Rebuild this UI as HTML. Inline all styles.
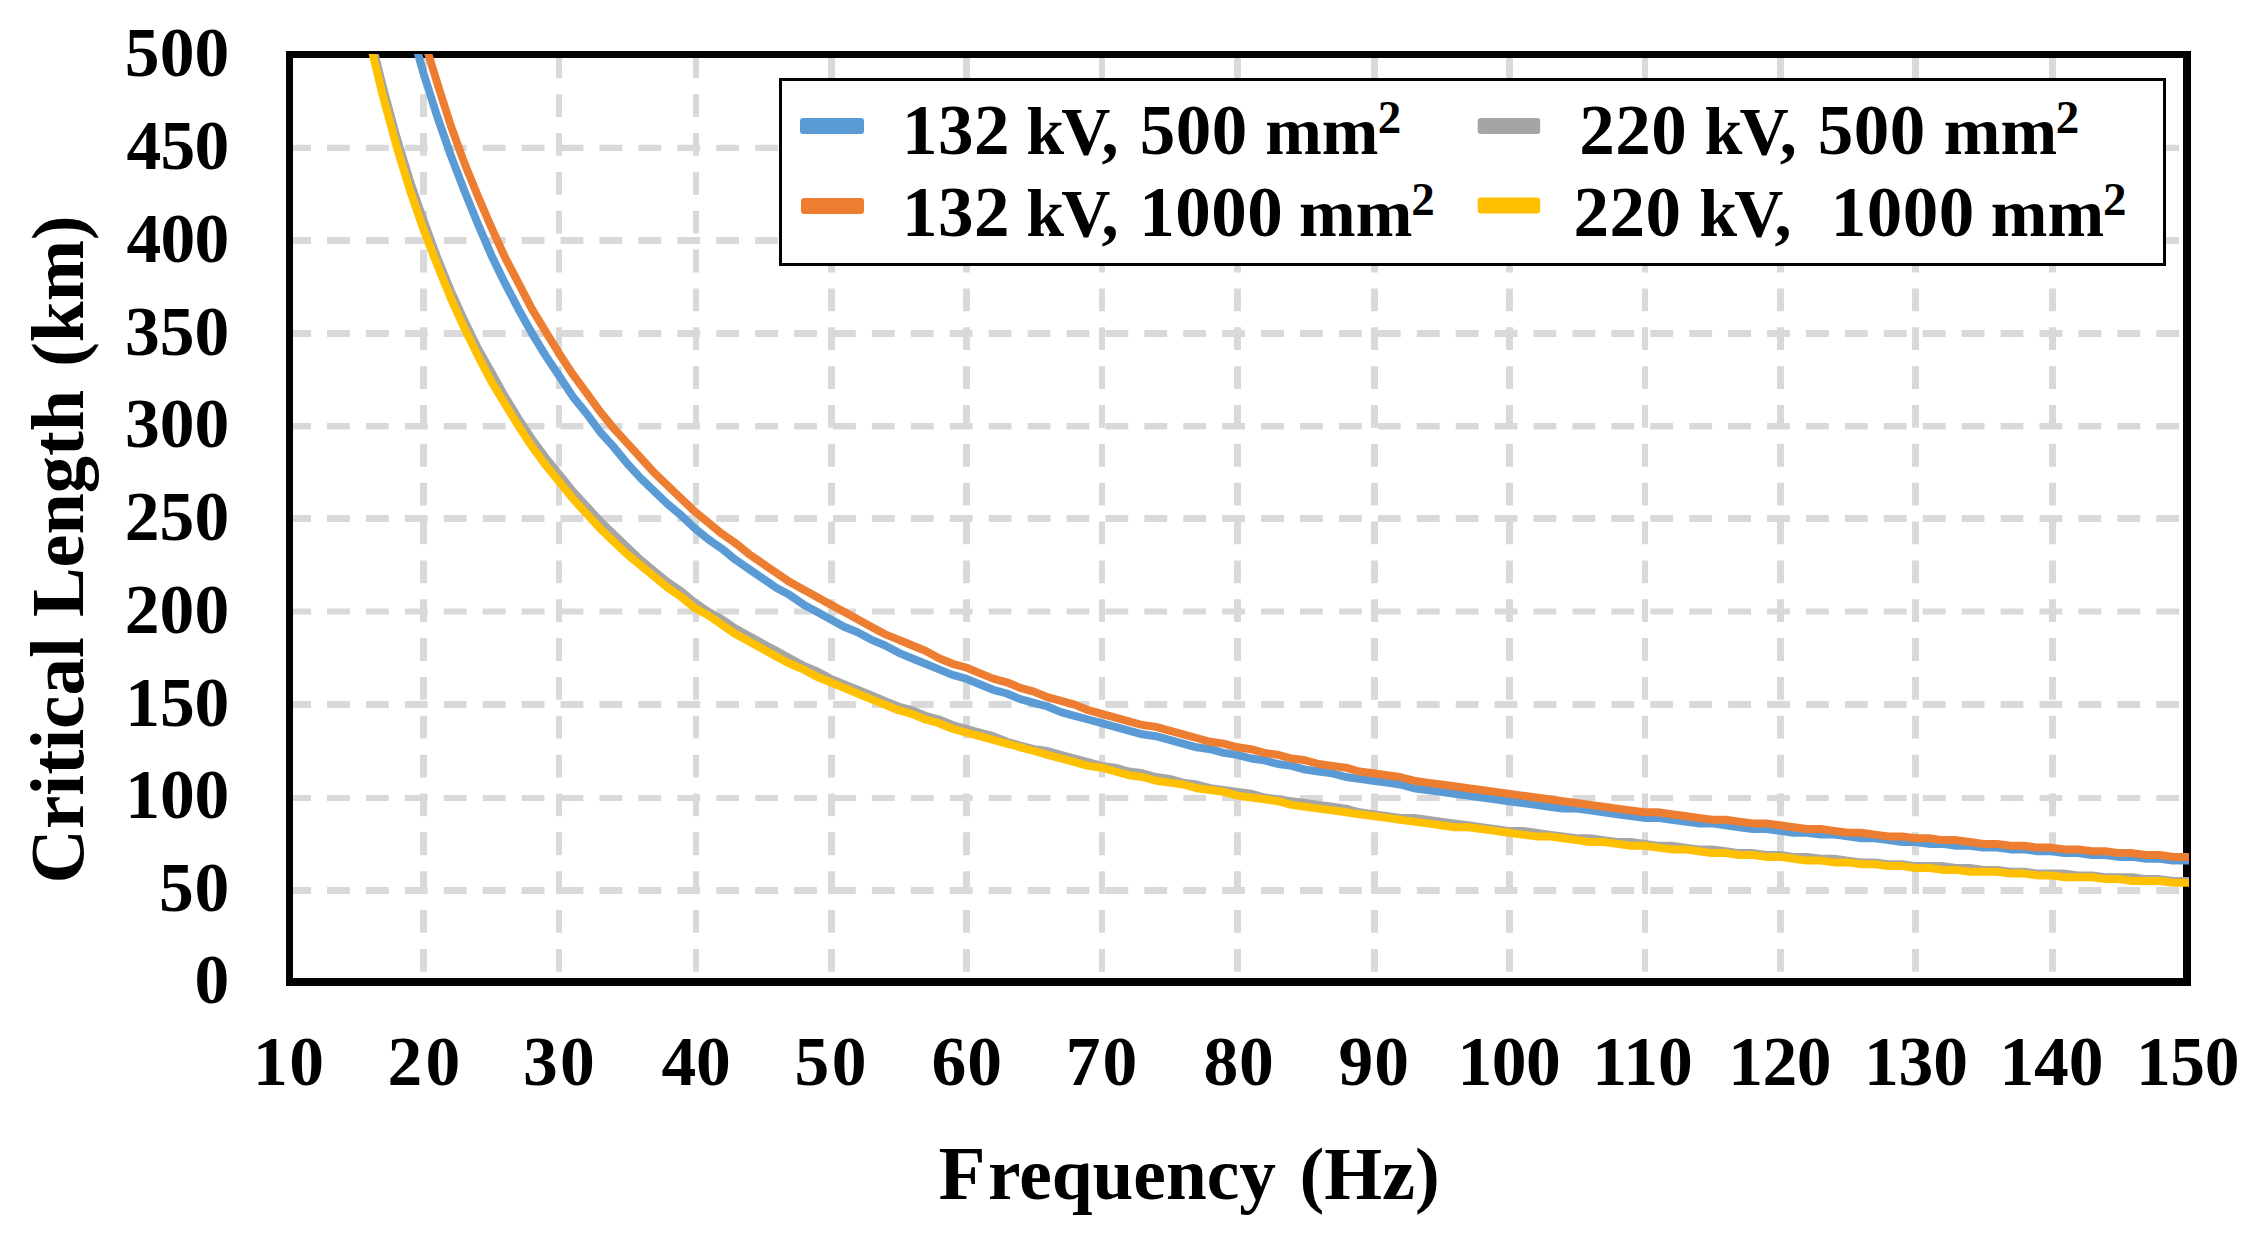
<!DOCTYPE html>
<html lang="en"><head><meta charset="utf-8"><title>Critical Length vs Frequency</title>
<style>html,body{margin:0;padding:0;background:#fff}svg{display:block}text{font-family:'Liberation Serif','Times New Roman',serif;font-weight:bold;fill:#000}.t{font-size:69.5px}.l{font-size:68px}.d{font-size:71px;letter-spacing:.5px}.s{font-size:47px}.a{font-size:75.2px}</style></head><body>
<svg width="2258" height="1254" viewBox="0 0 2258 1254">
<rect width="2258" height="1254" fill="#fff"/>
<g stroke="#D9D9D9" fill="none">
<path d="M288.1 147.82H2190" stroke-width="6.15" stroke-dasharray="22.85 16.07"/>
<path d="M288.1 240.50H2190" stroke-width="7.00" stroke-dasharray="22.85 16.07"/>
<path d="M288.1 333.50H2190" stroke-width="7.00" stroke-dasharray="22.85 16.07"/>
<path d="M288.1 426.30H2190" stroke-width="6.60" stroke-dasharray="22.85 16.07"/>
<path d="M288.1 518.50H2190" stroke-width="7.00" stroke-dasharray="22.85 16.07"/>
<path d="M288.1 611.50H2190" stroke-width="6.00" stroke-dasharray="22.85 16.07"/>
<path d="M288.1 704.50H2190" stroke-width="7.00" stroke-dasharray="22.85 16.07"/>
<path d="M288.1 798.00H2190" stroke-width="6.00" stroke-dasharray="22.85 16.07"/>
<path d="M288.1 890.50H2190" stroke-width="7.00" stroke-dasharray="22.85 16.07"/>
<path d="M423.50 55.35V985" stroke-width="7.00" stroke-dasharray="22.8 16.05"/>
<path d="M559.00 55.35V985" stroke-width="6.00" stroke-dasharray="22.8 16.05"/>
<path d="M696.00 55.35V985" stroke-width="6.00" stroke-dasharray="22.8 16.05"/>
<path d="M831.50 55.35V985" stroke-width="7.00" stroke-dasharray="22.8 16.05"/>
<path d="M966.50 55.35V985" stroke-width="7.00" stroke-dasharray="22.8 16.05"/>
<path d="M1102.00 55.35V985" stroke-width="6.00" stroke-dasharray="22.8 16.05"/>
<path d="M1237.50 55.35V985" stroke-width="7.00" stroke-dasharray="22.8 16.05"/>
<path d="M1374.50 55.35V985" stroke-width="7.00" stroke-dasharray="22.8 16.05"/>
<path d="M1509.50 55.35V985" stroke-width="7.00" stroke-dasharray="22.8 16.05"/>
<path d="M1645.00 55.35V985" stroke-width="6.00" stroke-dasharray="22.8 16.05"/>
<path d="M1780.50 55.35V985" stroke-width="7.00" stroke-dasharray="22.8 16.05"/>
<path d="M1915.50 55.35V985" stroke-width="7.00" stroke-dasharray="22.8 16.05"/>
<path d="M2052.50 55.35V985" stroke-width="7.00" stroke-dasharray="22.8 16.05"/>
</g>
<path fill="#000" fill-rule="evenodd" d="M286 51H2191V986H286ZM293 58V978H2183V58Z"/>
<clipPath id="c"><rect x="286" y="54" width="1903" height="935"/></clipPath>
<g clip-path="url(#c)" fill="none" stroke-width="8" stroke-linejoin="round">
<polyline stroke="#5B9BD5" points="342.2 -318.3 355.7 -231.1 369.3 -154.9 382.8 -88.1 396.4 -28.7 410.0 25.1 423.5 73.4 437.1 116.1 450.7 155.1 464.2 190.4 477.8 223.8 491.4 255.4 504.9 283.2 518.5 309.2 532.0 333.3 545.6 355.6 559.2 376.0 572.7 396.4 586.3 413.2 599.9 431.7 613.4 446.6 627.0 463.3 640.6 478.1 654.1 491.1 667.7 504.1 681.2 515.3 694.8 528.3 708.4 539.4 721.9 548.7 735.5 559.8 749.1 569.1 762.6 578.4 776.2 587.7 789.8 595.1 803.3 604.4 816.9 611.8 830.4 619.2 844.0 626.7 857.6 632.2 871.1 639.6 884.7 645.2 898.3 652.6 911.8 658.2 925.4 663.8 939.0 669.4 952.5 674.9 966.1 678.6 979.6 684.2 993.2 689.8 1006.8 693.5 1020.3 699.1 1033.9 702.8 1047.5 706.5 1061.0 712.1 1074.6 715.8 1088.2 719.5 1101.7 723.2 1115.3 726.9 1128.8 730.6 1142.4 734.3 1156.0 736.2 1169.5 739.9 1183.1 743.6 1196.7 747.3 1210.2 749.2 1223.8 752.9 1237.4 754.8 1250.9 758.5 1264.5 760.3 1278.0 764.0 1291.6 765.9 1305.2 769.6 1318.7 771.5 1332.3 773.3 1345.9 777.0 1359.4 778.9 1373.0 780.7 1386.6 782.6 1400.1 784.5 1413.7 788.2 1427.2 790.0 1440.8 791.9 1454.4 793.7 1467.9 795.6 1481.5 797.5 1495.1 799.3 1508.6 801.2 1522.2 803.0 1535.8 804.9 1549.3 806.7 1562.9 808.6 1576.4 808.6 1590.0 810.4 1603.6 812.3 1617.1 814.2 1630.7 816.0 1644.3 817.9 1657.8 817.9 1671.4 819.7 1685.0 821.6 1698.5 823.4 1712.1 823.4 1725.6 825.3 1739.2 827.2 1752.8 829.0 1766.3 829.0 1779.9 830.9 1793.5 832.7 1807.0 832.7 1820.6 834.6 1834.2 834.6 1847.7 836.4 1861.3 838.3 1874.8 838.3 1888.4 840.1 1902.0 842.0 1915.5 842.0 1929.1 843.9 1942.7 843.9 1956.2 845.7 1969.8 845.7 1983.3 847.6 1996.9 847.6 2010.5 849.4 2024.0 849.4 2037.6 851.3 2051.2 851.3 2064.7 853.1 2078.3 853.1 2091.9 855.0 2105.4 855.0 2119.0 856.9 2132.5 856.9 2146.1 858.7 2159.7 858.7 2173.2 860.6 2186.8 860.6 2200.4 860.6"/>
<polyline stroke="#ED7D31" points="342.2 -366.6 355.7 -275.6 369.3 -197.6 382.8 -128.9 396.4 -65.8 410.0 -12.0 423.5 38.1 437.1 82.7 450.7 125.4 464.2 162.5 477.8 195.9 491.4 227.5 504.9 257.2 518.5 283.2 532.0 309.2 545.6 331.5 559.2 353.7 572.7 374.2 586.3 392.7 599.9 411.3 613.4 428.0 627.0 442.9 640.6 457.7 654.1 472.6 667.7 485.6 681.2 498.6 694.8 511.5 708.4 522.7 721.9 533.8 735.5 543.1 749.1 554.2 762.6 563.5 776.2 572.8 789.8 582.1 803.3 589.5 816.9 596.9 830.4 604.4 844.0 611.8 857.6 619.2 871.1 626.7 884.7 634.1 898.3 639.6 911.8 645.2 925.4 650.8 939.0 658.2 952.5 663.8 966.1 667.5 979.6 673.1 993.2 678.6 1006.8 682.3 1020.3 687.9 1033.9 691.6 1047.5 697.2 1061.0 700.9 1074.6 704.6 1088.2 710.2 1101.7 713.9 1115.3 717.6 1128.8 721.3 1142.4 725.0 1156.0 726.9 1169.5 730.6 1183.1 734.3 1196.7 738.0 1210.2 741.8 1223.8 743.6 1237.4 747.3 1250.9 749.2 1264.5 752.9 1278.0 754.8 1291.6 758.5 1305.2 760.3 1318.7 764.0 1332.3 765.9 1345.9 767.7 1359.4 771.5 1373.0 773.3 1386.6 775.2 1400.1 777.0 1413.7 780.7 1427.2 782.6 1440.8 784.5 1454.4 786.3 1467.9 788.2 1481.5 790.0 1495.1 791.9 1508.6 793.7 1522.2 795.6 1535.8 797.5 1549.3 799.3 1562.9 801.2 1576.4 803.0 1590.0 804.9 1603.6 806.7 1617.1 808.6 1630.7 810.4 1644.3 812.3 1657.8 812.3 1671.4 814.2 1685.0 816.0 1698.5 817.9 1712.1 819.7 1725.6 819.7 1739.2 821.6 1752.8 823.4 1766.3 823.4 1779.9 825.3 1793.5 827.2 1807.0 829.0 1820.6 829.0 1834.2 830.9 1847.7 832.7 1861.3 832.7 1874.8 834.6 1888.4 836.4 1902.0 836.4 1915.5 838.3 1929.1 838.3 1942.7 840.1 1956.2 840.1 1969.8 842.0 1983.3 843.9 1996.9 843.9 2010.5 845.7 2024.0 845.7 2037.6 847.6 2051.2 847.6 2064.7 849.4 2078.3 849.4 2091.9 851.3 2105.4 851.3 2119.0 853.1 2132.5 853.1 2146.1 855.0 2159.7 855.0 2173.2 856.9 2186.8 856.9 2200.4 858.7"/>
<polyline stroke="#A5A5A5" points="342.2 -99.2 355.7 -28.7 369.3 32.6 382.8 86.4 396.4 136.5 410.0 181.1 423.5 220.1 437.1 257.2 450.7 290.6 464.2 320.3 477.8 348.2 491.4 372.3 504.9 396.4 518.5 418.7 532.0 439.1 545.6 457.7 559.2 474.4 572.7 491.1 586.3 506.0 599.9 520.8 613.4 533.8 627.0 546.8 640.6 559.8 654.1 571.0 667.7 582.1 681.2 591.4 694.8 602.5 708.4 611.8 721.9 619.2 735.5 628.5 749.1 635.9 762.6 643.4 776.2 650.8 789.8 658.2 803.3 665.6 816.9 671.2 830.4 678.6 844.0 684.2 857.6 689.8 871.1 695.3 884.7 700.9 898.3 706.5 911.8 710.2 925.4 715.8 939.0 719.5 952.5 725.0 966.1 728.8 979.6 732.5 993.2 736.2 1006.8 741.8 1020.3 745.5 1033.9 749.2 1047.5 751.0 1061.0 754.8 1074.6 758.5 1088.2 762.2 1101.7 765.9 1115.3 767.7 1128.8 771.5 1142.4 773.3 1156.0 777.0 1169.5 778.9 1183.1 782.6 1196.7 784.5 1210.2 788.2 1223.8 790.0 1237.4 791.9 1250.9 793.7 1264.5 797.5 1278.0 799.3 1291.6 801.2 1305.2 803.0 1318.7 804.9 1332.3 806.7 1345.9 808.6 1359.4 812.3 1373.0 814.2 1386.6 816.0 1400.1 817.9 1413.7 817.9 1427.2 819.7 1440.8 821.6 1454.4 823.4 1467.9 825.3 1481.5 827.2 1495.1 829.0 1508.6 830.9 1522.2 830.9 1535.8 832.7 1549.3 834.6 1562.9 836.4 1576.4 838.3 1590.0 838.3 1603.6 840.1 1617.1 842.0 1630.7 842.0 1644.3 843.9 1657.8 845.7 1671.4 845.7 1685.0 847.6 1698.5 849.4 1712.1 849.4 1725.6 851.3 1739.2 853.1 1752.8 853.1 1766.3 855.0 1779.9 855.0 1793.5 856.9 1807.0 856.9 1820.6 858.7 1834.2 858.7 1847.7 860.6 1861.3 862.4 1874.8 862.4 1888.4 864.3 1902.0 864.3 1915.5 866.1 1929.1 866.1 1942.7 866.1 1956.2 868.0 1969.8 868.0 1983.3 869.9 1996.9 869.9 2010.5 871.7 2024.0 871.7 2037.6 873.6 2051.2 873.6 2064.7 873.6 2078.3 875.4 2091.9 875.4 2105.4 877.3 2119.0 877.3 2132.5 877.3 2146.1 879.1 2159.7 879.1 2173.2 881.0 2186.8 881.0 2200.4 881.0"/>
<polyline stroke="#FFC000" points="342.2 -95.5 355.7 -23.1 369.3 40.0 382.8 95.7 396.4 145.8 410.0 190.4 423.5 229.4 437.1 264.6 450.7 298.1 464.2 327.8 477.8 355.6 491.4 381.6 504.9 403.9 518.5 426.1 532.0 446.6 545.6 465.1 559.2 481.8 572.7 498.6 586.3 513.4 599.9 528.3 613.4 541.3 627.0 554.2 640.6 565.4 654.1 576.5 667.7 587.7 681.2 596.9 694.8 608.1 708.4 615.5 721.9 624.8 735.5 634.1 749.1 641.5 762.6 648.9 776.2 656.4 789.8 663.8 803.3 669.4 816.9 676.8 830.4 682.3 844.0 687.9 857.6 693.5 871.1 699.1 884.7 704.6 898.3 710.2 911.8 713.9 925.4 719.5 939.0 723.2 952.5 728.8 966.1 732.5 979.6 736.2 993.2 739.9 1006.8 743.6 1020.3 747.3 1033.9 751.0 1047.5 754.8 1061.0 758.5 1074.6 762.2 1088.2 765.9 1101.7 767.7 1115.3 771.5 1128.8 775.2 1142.4 777.0 1156.0 780.7 1169.5 782.6 1183.1 784.5 1196.7 788.2 1210.2 790.0 1223.8 791.9 1237.4 795.6 1250.9 797.5 1264.5 799.3 1278.0 801.2 1291.6 804.9 1305.2 806.7 1318.7 808.6 1332.3 810.4 1345.9 812.3 1359.4 814.2 1373.0 816.0 1386.6 817.9 1400.1 819.7 1413.7 821.6 1427.2 823.4 1440.8 825.3 1454.4 827.2 1467.9 827.2 1481.5 829.0 1495.1 830.9 1508.6 832.7 1522.2 834.6 1535.8 836.4 1549.3 836.4 1562.9 838.3 1576.4 840.1 1590.0 842.0 1603.6 842.0 1617.1 843.9 1630.7 845.7 1644.3 845.7 1657.8 847.6 1671.4 849.4 1685.0 849.4 1698.5 851.3 1712.1 853.1 1725.6 853.1 1739.2 855.0 1752.8 855.0 1766.3 856.9 1779.9 856.9 1793.5 858.7 1807.0 860.6 1820.6 860.6 1834.2 862.4 1847.7 862.4 1861.3 864.3 1874.8 864.3 1888.4 866.1 1902.0 866.1 1915.5 868.0 1929.1 868.0 1942.7 869.9 1956.2 869.9 1969.8 871.7 1983.3 871.7 1996.9 871.7 2010.5 873.6 2024.0 873.6 2037.6 875.4 2051.2 875.4 2064.7 877.3 2078.3 877.3 2091.9 877.3 2105.4 879.1 2119.0 879.1 2132.5 881.0 2146.1 881.0 2159.7 881.0 2173.2 882.8 2186.8 882.8 2200.4 882.8"/>
</g>
<rect x="780.5" y="79.5" width="1384" height="185" fill="#fff" stroke="#000" stroke-width="3"/>
<rect x="800" y="118" width="64" height="16" rx="3" fill="#5B9BD5"/>
<rect x="801" y="198" width="63" height="16" rx="3" fill="#ED7D31"/>
<rect x="1477.7" y="118" width="62.5" height="16" rx="3" fill="#A5A5A5"/>
<rect x="1477.7" y="197.5" width="62.5" height="16" rx="3" fill="#FFC000"/>
<text y="154"><tspan class="d" x="902">132</tspan> <tspan class="l" x="1026.2">k</tspan><tspan class="l" x="1061.2">V,</tspan> <tspan class="d" x="1139.7">500</tspan> <tspan class="l" x="1265.2">mm</tspan><tspan class="s" x="1377.8" dy="-21">2</tspan></text>
<text y="235.5"><tspan class="d" x="902">132</tspan> <tspan class="l" x="1026.2">k</tspan><tspan class="l" x="1061.2">V,</tspan> <tspan class="d" x="1139.2">1000</tspan> <tspan class="l" x="1299">mm</tspan><tspan class="s" x="1411.2" dy="-21">2</tspan></text>
<text y="154"><tspan class="d" x="1579.2">220</tspan> <tspan class="l" x="1704.5">k</tspan><tspan class="l" x="1739.5">V,</tspan> <tspan class="d" x="1817.8">500</tspan> <tspan class="l" x="1943.8">mm</tspan><tspan class="s" x="2055.8" dy="-21">2</tspan></text>
<text y="236"><tspan class="d" x="1573.4">220</tspan> <tspan class="l" x="1699.2">k</tspan><tspan class="l" x="1734.2">V,</tspan>  <tspan class="d" x="1830.8">1000</tspan> <tspan class="l" x="1990.8">mm</tspan><tspan class="s" x="2103" dy="-21">2</tspan></text>
<text class="t" x="194.5" y="1003.1" letter-spacing="0.00">0</text>
<text class="t" x="159.0" y="910.9" letter-spacing="0.73">50</text>
<text class="t" x="125.3" y="818.1" letter-spacing="-0.17">100</text>
<text class="t" x="125.3" y="725.8" letter-spacing="-0.17">150</text>
<text class="t" x="124.7" y="633.0" letter-spacing="0.16">200</text>
<text class="t" x="124.7" y="540.2" letter-spacing="0.16">250</text>
<text class="t" x="125.0" y="447.3" letter-spacing="0.01">300</text>
<text class="t" x="125.0" y="354.5" letter-spacing="0.01">350</text>
<text class="t" x="126.6" y="261.7" letter-spacing="-0.83">400</text>
<text class="t" x="126.6" y="168.9" letter-spacing="-0.83">450</text>
<text class="t" x="124.8" y="76.1" letter-spacing="0.09">500</text>
<text class="t" x="253.0" y="1085" letter-spacing="1.41">10</text>
<text class="t" x="387.6" y="1085" letter-spacing="3.07">20</text>
<text class="t" x="523.1" y="1085" letter-spacing="2.26">30</text>
<text class="t" x="661.4" y="1085" letter-spacing="-0.20">40</text>
<text class="t" x="794.6" y="1085" letter-spacing="2.33">50</text>
<text class="t" x="931.4" y="1085" letter-spacing="1.22">60</text>
<text class="t" x="1065.7" y="1085" letter-spacing="2.12">70</text>
<text class="t" x="1203.5" y="1085" letter-spacing="0.75">80</text>
<text class="t" x="1338.4" y="1085" letter-spacing="1.05">90</text>
<text class="t" x="1457.5" y="1085" letter-spacing="-0.52">100</text>
<text class="t" x="1592.2" y="1085" letter-spacing="0.08">110</text>
<text class="t" x="1728.2" y="1085" letter-spacing="-0.42">120</text>
<text class="t" x="1863.9" y="1085" letter-spacing="-0.07">130</text>
<text class="t" x="1999.4" y="1085" letter-spacing="-0.02">140</text>
<text class="t" x="2135.9" y="1085" letter-spacing="-0.32">150</text>
<text y="1199"><tspan x="938.6" font-size="77">F</tspan><tspan x="988.1" font-size="73.3">requency</tspan> <tspan x="1299.4" font-size="74.4">(Hz)</tspan></text>
<text class="a" transform="translate(82.6 883.4) rotate(-90)"><tspan x="0">Critical</tspan> <tspan x="266.4" font-size="74.3">Length</tspan> <tspan x="516.6" font-size="73.6">(km)</tspan></text>
</svg></body></html>
